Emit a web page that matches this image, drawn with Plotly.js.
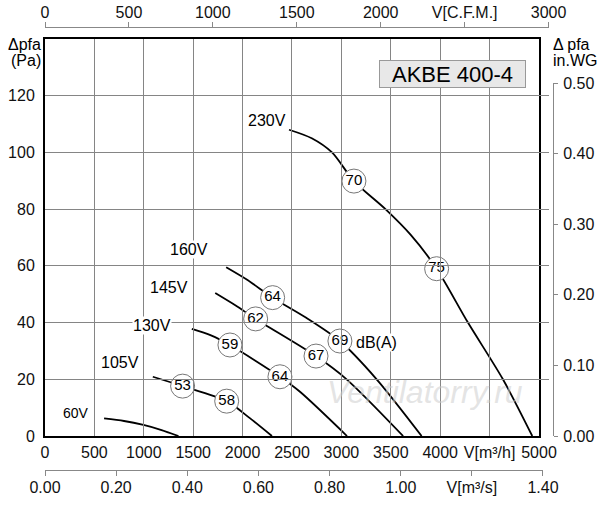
<!DOCTYPE html>
<html>
<head>
<meta charset="utf-8">
<script src="https://cdn.plot.ly/plotly-3.0.1.min.js"></script>
<style>
    body { margin: 0; background: #fff; }
    #chart { width: 600px; height: 505px; }
</style>
</head>
<body>
<div id="chart"></div>
<script>
// Fan curves: flow in m3/h, pressure in Pa
let flow230 = [2470, 2700, 2905, 3127, 3446, 3700, 3964, 4281, 4635, 4932];
let dp230 = [108, 105, 100, 89.9, 80, 71, 59, 40, 20, 0];
let flow160 = [1834, 2050, 2304, 2640, 2985, 3357, 3812];
let dp160 = [59.5, 55, 48.8, 41.8, 33.5, 20, 0];
let flow145 = [1723, 1930, 2132, 2743, 3053, 3625];
let dp145 = [50.4, 46, 41.3, 28.2, 20, 0];
let flow130 = [1486, 1680, 1872, 2378, 2581, 3057];
let dp130 = [37.8, 35.5, 32.1, 20.9, 15.6, 0];
let flow105 = [1091, 1393, 1839, 2070, 2297];
let dp105 = [20.9, 17.6, 12.3, 6.4, 0];
let flow60 = [598, 800, 996, 1180, 1351];
let dp60 = [6.2, 5.3, 3.9, 2.1, 0];

// Noise level markers on the curves, dB(A)
let dbFlow = [3127, 3964, 2304, 2985, 2132, 2743, 1872, 2378, 1393, 1839];
let dbPressure = [89.9, 59, 48.8, 33.5, 41.3, 28.2, 32.1, 20.9, 17.6, 12.3];
let dbValue = ['70', '75', '64', '69', '62', '67', '59', '64', '53', '58'];

// Voltage labels
let voltText = ['230V', '160V', '145V', '130V', '105V', '60V'];
let voltFlow = [2247, 1462, 1255, 1078, 759, 314];
let voltPressure = [111.4, 65.6, 52.5, 39.1, 25.8, 8.1];

// Tick labels
let m3hTicks = [0, 500, 1000, 1500, 2000, 2500, 3000, 3500, 4000, 4500, 5000];
let m3hText = ['0', '500', '1000', '1500', '2000', '2500', '3000', '3500', '4000', 'V[m³/h]', '5000'];
let cfmTicks = [0, 500, 1000, 1500, 2000, 2500, 3000];
let cfmText = ['0', '500', '1000', '1500', '2000', 'V[C.F.M.]', '3000'];
let m3sTicks = [0, 0.2, 0.4, 0.6, 0.8, 1.0, 1.2, 1.4];
let m3sText = ['0.00', '0.20', '0.40', '0.60', '0.80', '1.00', 'V[m³/s]', '1.40'];
let paTicks = [0, 20, 40, 60, 80, 100, 120];
let inwgTicks = [0, 0.1, 0.2, 0.3, 0.4, 0.5];

let font = 'Liberation Sans, Arial, sans-serif';

let curves = [
    [flow230, dp230], [flow160, dp160], [flow145, dp145],
    [flow130, dp130], [flow105, dp105], [flow60, dp60]
];

let data = curves.map(function (c) {
    return {
        x: c[0],
        y: c[1],
        type: 'scatter',
        mode: 'lines',
        line: { color: '#000', width: 1.8, shape: 'spline', smoothing: 0.8 },
        hoverinfo: 'skip'
    };
});

data.push({
    x: dbFlow,
    y: dbPressure,
    text: dbValue,
    type: 'scatter',
    mode: 'markers+text',
    textposition: 'middle center',
    textfont: { family: font, size: 15, color: '#000' },
    marker: { size: 24, color: '#fff', line: { color: '#777', width: 1 } },
    hoverinfo: 'skip'
});

// Invisible helpers so the secondary unit axes get drawn
data.push(
    { x: cfmTicks, y: cfmTicks.map(function () { return 0; }), xaxis: 'x2', yaxis: 'y',
      type: 'scatter', mode: 'markers', marker: { opacity: 0 }, hoverinfo: 'skip' },
    { x: m3sTicks, y: m3sTicks.map(function () { return 0; }), xaxis: 'x3', yaxis: 'y',
      type: 'scatter', mode: 'markers', marker: { opacity: 0 }, hoverinfo: 'skip' },
    { x: inwgTicks.map(function () { return 0; }), y: inwgTicks, xaxis: 'x', yaxis: 'y2',
      type: 'scatter', mode: 'markers', marker: { opacity: 0 }, hoverinfo: 'skip' }
);

let annotations = voltText.map(function (t, i) {
    return {
        x: voltFlow[i], y: voltPressure[i], xref: 'x', yref: 'y',
        text: t, showarrow: false, bgcolor: '#fff', borderpad: 0,
        font: { family: font, size: t === '60V' ? 14 : 16, color: '#000' }
    };
});

annotations.push(
    { x: 3137, y: 32.9, xref: 'x', yref: 'y', xanchor: 'left', text: 'dB(A)', showarrow: false,
      bgcolor: '#fff', borderpad: 0, font: { family: font, size: 16, color: '#000' } },
    { x: 4124, y: 127.8, xref: 'x', yref: 'y', text: 'AKBE 400-4', showarrow: false,
      width: 143, height: 24, bgcolor: '#e8e8e8', bordercolor: '#999', borderwidth: 1, borderpad: 1,
      font: { family: font, size: 22, color: '#000' } },
    { x: 3846, y: 15.5, xref: 'x', yref: 'y', text: 'Ventilatorry.ru', showarrow: false,
      font: { family: font, size: 32, color: 'rgba(205,205,205,0.55)', style: 'italic' } },
    { x: -0.004, y: 0.9594, xref: 'paper', yref: 'paper', xanchor: 'right', yanchor: 'middle',
      text: 'Δpfa', showarrow: false, font: { family: font, size: 16, color: '#000' } },
    { x: -0.004, y: 0.9233, xref: 'paper', yref: 'paper', xanchor: 'right', yanchor: 'middle',
      text: '(Pa)', showarrow: false, font: { family: font, size: 16, color: '#000' } },
    { x: 0.996, y: 0.9594, xref: 'paper', yref: 'paper', xanchor: 'left', yanchor: 'middle',
      text: 'Δ pfa', showarrow: false, font: { family: font, size: 16, color: '#000' } },
    { x: 0.996, y: 0.9233, xref: 'paper', yref: 'paper', xanchor: 'left', yanchor: 'middle',
      text: 'in.WG', showarrow: false, font: { family: font, size: 16, color: '#000' } }
);

let tickFont = { family: font, size: 16, color: '#111' };

// Layout of the chart
let layout = {
    width: 600,
    height: 505,
    showlegend: false,
    paper_bgcolor: '#fff',
    plot_bgcolor: 'rgba(0,0,0,0)',
    margin: { l: 45, r: 47, t: 27, b: 35 },
    xaxis: {
        domain: [0, 0.9724],
        range: [0, 5000],
        tickvals: m3hTicks,
        ticktext: m3hText,
        ticks: '',
        ticklabelstandoff: 1,
        showgrid: true,
        gridcolor: '#858585',
        gridwidth: 1,
        zeroline: false,
        showline: true,
        mirror: true,
        linecolor: '#000',
        linewidth: 2,
        tickfont: tickFont,
        fixedrange: true
    },
    yaxis: {
        domain: [0.0767, 0.9729],
        range: [0, 140],
        tickvals: paTicks,
        ticks: '',
        ticklabelstandoff: 5,
        showgrid: true,
        gridcolor: '#858585',
        gridwidth: 1,
        zeroline: false,
        showline: true,
        mirror: true,
        linecolor: '#000',
        linewidth: 2,
        tickfont: tickFont,
        fixedrange: true
    },
    // CFM scale on top
    xaxis2: {
        domain: [0, 0.9913],
        range: [0, 3000],
        anchor: 'free',
        position: 1,
        side: 'top',
        tickvals: cfmTicks,
        ticktext: cfmText,
        ticks: 'outside',
        ticklen: 5,
        tickcolor: '#888',
        ticklabelstandoff: -2,
        showline: true,
        linecolor: '#888',
        linewidth: 1,
        showgrid: false,
        zeroline: false,
        tickfont: tickFont,
        fixedrange: true
    },
    // m3/s scale below
    xaxis3: {
        domain: [0, 0.9803],
        range: [0, 1.4],
        anchor: 'free',
        position: 0,
        side: 'bottom',
        tickvals: m3sTicks,
        ticktext: m3sText,
        ticks: 'outside',
        ticklen: 5,
        tickcolor: '#888',
        ticklabelstandoff: -2,
        showline: true,
        linecolor: '#888',
        linewidth: 1,
        showgrid: false,
        zeroline: false,
        tickfont: tickFont,
        fixedrange: true
    },
    // in.WG scale on the right
    yaxis2: {
        domain: [0.0767, 0.8734],
        range: [0, 0.5],
        anchor: 'free',
        position: 1,
        side: 'right',
        tickvals: inwgTicks,
        tickformat: '.2f',
        ticks: 'outside',
        ticklen: 4,
        tickcolor: '#888',
        ticklabelstandoff: 2,
        showline: true,
        linecolor: '#888',
        linewidth: 1,
        showgrid: false,
        zeroline: false,
        tickfont: tickFont,
        fixedrange: true
    },
    annotations: annotations
};

// General chart configuration
let config = {
    displayModeBar: false,
    staticPlot: true
};

Plotly.newPlot(document.getElementById('chart'), data, layout, config);
</script>
</body>
</html>
